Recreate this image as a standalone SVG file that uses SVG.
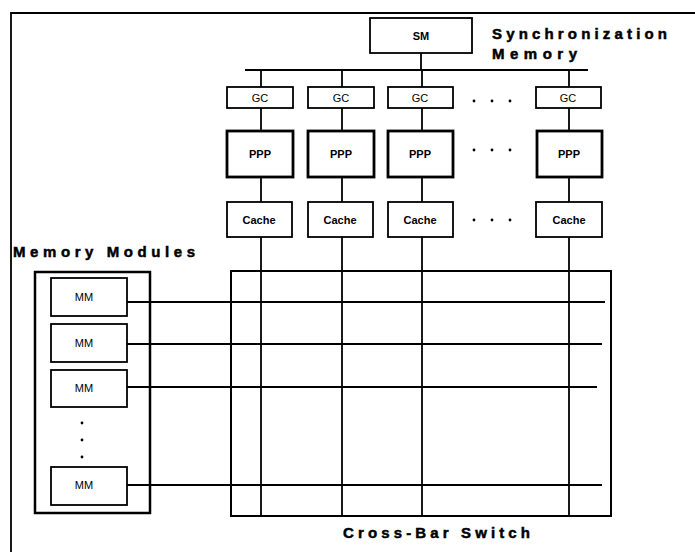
<svg xmlns="http://www.w3.org/2000/svg" width="695" height="552" viewBox="0 0 695 552">
<style>
.box{fill:#fff;stroke:#000;stroke-width:1.8}
.thick{fill:#fff;stroke:#000;stroke-width:2.8}
.ln{stroke:#000;stroke-width:1.8;fill:none}
.lbl{font-family:"Liberation Sans",Arial,sans-serif;font-size:11px;text-anchor:middle;fill:#000}
.b{font-weight:bold}
.big{font-family:"Liberation Sans",Arial,sans-serif;font-size:15px;font-weight:bold;fill:#000;stroke:#000;stroke-width:0.5}
.dot{fill:#000}
</style>
<rect width="695" height="552" fill="#fff"/>
<path d="M695 13 H11 V552" class="ln" stroke-width="2"/>
<g id="connectors">
<line x1="421" y1="53" x2="421" y2="70" class="ln"/>
<line x1="245" y1="70" x2="588" y2="70" class="ln"/>
<line x1="261" y1="70" x2="261" y2="516" class="ln"/>
<line x1="342" y1="70" x2="342" y2="516" class="ln"/>
<line x1="422" y1="70" x2="422" y2="516" class="ln"/>
<line x1="569" y1="70" x2="569" y2="516" class="ln"/>
<line x1="127" y1="302" x2="605" y2="302" class="ln"/>
<line x1="127" y1="344" x2="602" y2="344" class="ln"/>
<line x1="127" y1="387" x2="597" y2="387" class="ln"/>
<line x1="127" y1="485" x2="602" y2="485" class="ln"/>
</g>
<g id="crossbar"><rect x="231" y="271" width="380" height="245" fill="none" stroke="#000" stroke-width="2"/>
<text class="big" x="343" y="538" textLength="187" lengthAdjust="spacing">Cross-Bar  Switch</text></g>
<g id="sm"><rect class="box" x="370" y="18" width="102" height="35"/><text class="lbl b" x="421" y="40">SM</text>
<text class="big" x="492" y="39" textLength="175" lengthAdjust="spacing">Synchronization</text>
<text class="big" x="492" y="59" textLength="85" lengthAdjust="spacing">Memory</text></g>
<g id="gc1"><rect class="box" x="227" y="87" width="66" height="21"/><text class="lbl" x="260" y="102">GC</text></g>
<g id="gc2"><rect class="box" x="308" y="87" width="66" height="21"/><text class="lbl" x="341" y="102">GC</text></g>
<g id="gc3"><rect class="box" x="388" y="87" width="65" height="21"/><text class="lbl" x="420" y="102">GC</text></g>
<g id="gc4"><rect class="box" x="536" y="87" width="65" height="21"/><text class="lbl" x="568" y="102">GC</text></g>
<g id="ppp1"><rect class="thick" x="227" y="131" width="66" height="46"/><text class="lbl b" x="260" y="158">PPP</text></g>
<g id="ppp2"><rect class="thick" x="308" y="131" width="66" height="46"/><text class="lbl b" x="341" y="158">PPP</text></g>
<g id="ppp3"><rect class="thick" x="388" y="131" width="65" height="46"/><text class="lbl b" x="420" y="158">PPP</text></g>
<g id="ppp4"><rect class="thick" x="537" y="131" width="65" height="46"/><text class="lbl b" x="569" y="158">PPP</text></g>
<g id="cache1"><rect class="box" x="227" y="202" width="65" height="35"/><text class="lbl b" x="259" y="224">Cache</text></g>
<g id="cache2"><rect class="box" x="308" y="202" width="65" height="35"/><text class="lbl b" x="340" y="224">Cache</text></g>
<g id="cache3"><rect class="box" x="388" y="202" width="65" height="35"/><text class="lbl b" x="420" y="224">Cache</text></g>
<g id="cache4"><rect class="box" x="536" y="202" width="66" height="35"/><text class="lbl b" x="569" y="224">Cache</text></g>
<g id="dots-h">
<circle class="dot" cx="474" cy="101" r="1.4"/><circle class="dot" cx="492" cy="101" r="1.4"/><circle class="dot" cx="510" cy="101" r="1.4"/>
<circle class="dot" cx="474" cy="150" r="1.4"/><circle class="dot" cx="492" cy="150" r="1.4"/><circle class="dot" cx="510" cy="150" r="1.4"/>
<circle class="dot" cx="474" cy="220" r="1.4"/><circle class="dot" cx="492" cy="220" r="1.4"/><circle class="dot" cx="510" cy="220" r="1.4"/>
</g>
<g id="memory-modules">
<text class="big" x="13" y="257" textLength="182" lengthAdjust="spacing">Memory  Modules</text>
<rect x="35" y="272" width="115" height="241" fill="none" stroke="#000" stroke-width="2.5"/>
</g>
<g id="mm1"><rect class="box" x="51" y="278" width="76" height="38"/><text class="lbl" x="84" y="301">MM</text></g>
<g id="mm2"><rect class="box" x="51" y="324" width="76" height="38"/><text class="lbl" x="84" y="347">MM</text></g>
<g id="mm3"><rect class="box" x="51" y="370" width="76" height="37"/><text class="lbl" x="84" y="392">MM</text></g>
<g id="mm4"><rect class="box" x="51" y="467" width="76" height="38"/><text class="lbl" x="84" y="489">MM</text></g>
<g id="dots-v"><circle class="dot" cx="82" cy="423" r="1.4"/><circle class="dot" cx="82" cy="440" r="1.4"/><circle class="dot" cx="82" cy="457" r="1.4"/></g>
</svg>
